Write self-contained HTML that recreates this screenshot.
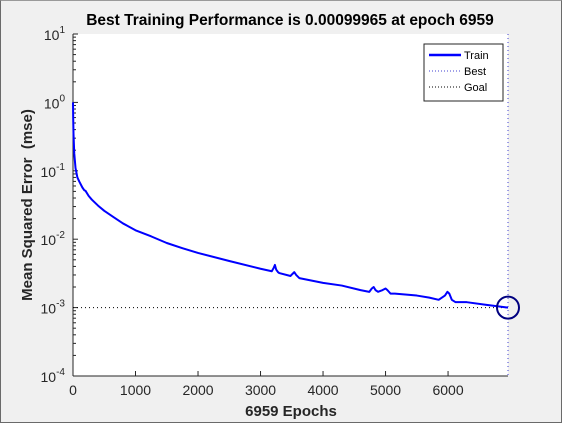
<!DOCTYPE html>
<html><head><meta charset="utf-8"><style>
body{margin:0;background:#f0f0f0;font-family:"Liberation Sans",sans-serif}
#wrap{position:relative;width:562px;height:423px;box-sizing:border-box;border:1px solid #6a6a6a;border-top-color:#9a9a9a}
</style></head><body>
<div id="wrap">
<svg id="chart" width="560" height="421" style="position:absolute;left:0;top:0"></svg>
</div>
<script>
const epochs=[0,3,8,20,40,70,100,150,180,200,250,300,400,500,650,800,1000,1250,1500,1750,2000,2500,3000,3180,3210,3230,3250,3280,3300,3480,3510,3540,3570,3620,4000,4300,4600,4740,4780,4810,4840,4880,4950,5000,5030,5080,5150,5500,5700,5850,5950,5990,6020,6060,6120,6300,6600,6959];
const mse=[1.0,0.6,0.35,0.18,0.11,0.08,0.07,0.057,0.052,0.051,0.043,0.038,0.031,0.026,0.021,0.017,0.0135,0.011,0.0088,0.0074,0.0063,0.0048,0.0037,0.0034,0.0038,0.0042,0.0036,0.0033,0.0032,0.0029,0.0031,0.0033,0.0030,0.0027,0.0023,0.0021,0.0018,0.0017,0.0019,0.002,0.0018,0.0017,0.0018,0.0019,0.0018,0.0016,0.0016,0.0015,0.0014,0.0013,0.0015,0.0017,0.0016,0.0013,0.0012,0.0012,0.0011,0.001];
const xTicks=[0,1000,2000,3000,4000,5000,6000];
const yExps=[1,0,-1,-2,-3,-4];
const bestEpoch=6959, bestVal=0.00099965, goal=0.001;
const NS="http://www.w3.org/2000/svg";
const svg=document.getElementById('chart');
const L=72,R=507,T=33,B=375,xMax=6959;
const X=v=>L+(v/xMax)*(R-L);
const Y=v=>T+(1-Math.log10(v))*(B-T)/5;
function mk(t,a,p){const e=document.createElementNS(NS,t);for(const k in a)e.setAttribute(k,a[k]);(p||svg).appendChild(e);return e;}
const bg=mk('rect',{x:L,y:T,width:R-L,height:B-T,fill:'#fff'});


const title=mk('text',{x:289,y:24,'text-anchor':'middle','font-size':15.5,'font-weight':'bold',fill:'#000'});
title.textContent='Best Training Performance is 0.00099965 at epoch 6959';


yExps.forEach(e=>{
 const y=Y(Math.pow(10,e));
 mk('line',{x1:L,x2:L+5,y1:y,y2:y,stroke:'#262626'});
 const t=mk('text',{x:L-8,y:y+6,'text-anchor':'end','font-size':14,fill:'#262626'});
 t.innerHTML='10<tspan dy="-7" font-size="10">'+e+'</tspan>';
 
 
 if(e>-4){for(let m=2;m<10;m++){const yy=Y(m*Math.pow(10,e-1));mk('line',{x1:L,x2:L+3,y1:yy,y2:yy,stroke:'#262626'});}}
});
xTicks.forEach(v=>{
 const x=X(v);
 mk('line',{x1:x,x2:x,y1:B,y2:B-5,stroke:'#262626'});
 const t=mk('text',{x:x,y:B+19,'text-anchor':'middle','font-size':14,fill:'#262626'});
 t.textContent=v;
 
 
});
mk('line',{x1:L,x2:L,y1:T,y2:B,stroke:'#262626'});
mk('line',{x1:L,x2:R,y1:B,y2:B,stroke:'#262626'});
const xl=mk('text',{x:290,y:415,'text-anchor':'middle','font-size':15,'font-weight':'bold',fill:'#262626'});
xl.textContent=bestEpoch+' Epochs';


const yl=mk('text',{x:0,y:0,'text-anchor':'middle','font-size':15,'font-weight':'bold',fill:'#262626',transform:'translate(31,204) rotate(-90)','xml:space':'preserve'});
yl.setAttribute('style','white-space:pre');
yl.textContent='Mean Squared Error  (mse)';


const gl=mk('line',{x1:L,x2:R,y1:Y(goal),y2:Y(goal),stroke:'#000','stroke-dasharray':'1,3'});


const bl=mk('line',{x1:X(bestEpoch),x2:X(bestEpoch),y1:T,y2:B,stroke:'#4040d0','stroke-dasharray':'1,3'});


const path=mk('polyline',{points:epochs.map((e,i)=>X(e)+','+Y(mse[i])).join(' '),fill:'none',stroke:'#0000ff','stroke-width':2,'stroke-linejoin':'round'});


const c=mk('circle',{cx:X(bestEpoch),cy:Y(bestVal),r:11,fill:'none',stroke:'#000080','stroke-width':2});


const lg=mk('g',{});


mk('rect',{x:423,y:43,width:79,height:57,fill:'#fff',stroke:'#262626','stroke-width':1},lg);
[['Train','#0000ff','',2.5],['Best','#4040d0','1,2',1],['Goal','#000','1,2',1]].forEach((d,i)=>{
 const y=54+i*16;
 mk('line',{x1:428,x2:460,y1:y,y2:y,stroke:d[1],'stroke-width':d[3],'stroke-dasharray':d[2]},lg);
 const t=mk('text',{x:463,y:y+4,'font-size':11,fill:'#000'},lg);
 t.textContent=d[0];
 
 
});
</script>
</body></html>
